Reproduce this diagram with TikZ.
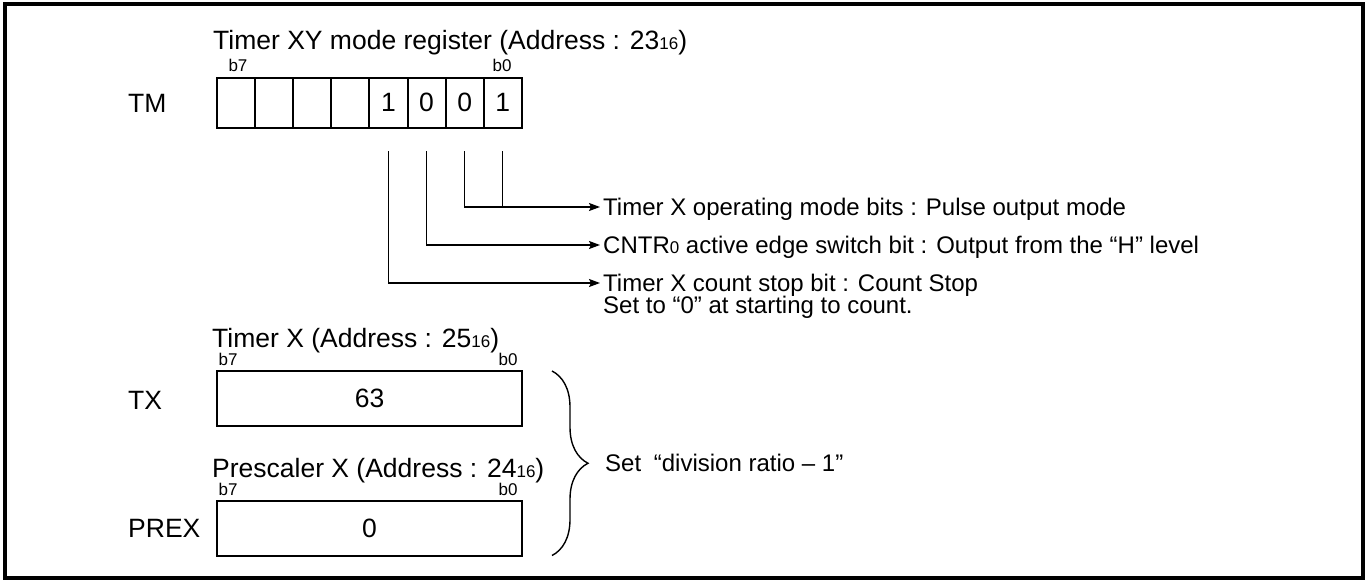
\documentclass[tikz,border=0pt]{standalone}
\usepackage{fontspec}
\setmainfont{Liberation Sans}
\usetikzlibrary{arrows.meta,positioning,decorations.pathreplacing}
\newcommand{\smallnum}[1]{{\fontsize{17}{17}\selectfont #1}}

\begin{document}
\begin{tikzpicture}[x=1pt,y=-1pt,
  every node/.style={font=\fontsize{26.5}{28}\selectfont},
  bitnum/.style={font=\fontsize{17}{17}\selectfont,inner sep=0pt,anchor=base},
  regtitle/.style={anchor=base west,inner sep=0pt},
  regname/.style={anchor=west,inner sep=0pt},
  bitcell/.style={draw,line width=2pt,minimum width=38.1pt,minimum height=50pt,inner sep=0pt,outer sep=0pt},
  regbox/.style={draw,line width=2pt,minimum width=305pt,minimum height=55pt,inner sep=0pt,outer sep=0pt},
  desclbl/.style={anchor=west,inner xsep=3pt,inner ysep=0pt,text height=17pt,text depth=0pt,
    font=\fontsize{24}{24}\selectfont},
  conn/.style={line width=1.4pt},
  arr/.style={conn,-{Stealth[length=11pt,width=8pt,inset=2pt]}}]
  \useasboundingbox (0,0) rectangle (1368,581);
  \draw[line width=4pt] (5,3.5) rectangle (1362.5,578);

  % mode register
  \node[regname] (tm) at (128,103) {TM};
  \node[regtitle] (tmtitle) at (213,49) {Timer XY mode register (Address : 23\smallnum{16})};
  \foreach \b/\v [count=\k from 0] in {7/,6/,5/,4/,3/1,2/0,1/0,0/1}
    \node[bitcell] (bit\b) at (236.05+38.1*\k,102.5) {\v};
  \node[bitnum] (tmb7) at (238,71) {b7};
  \node[bitnum] (tmb0) at (502,71) {b0};

  \node[desclbl] (mode) at (600,207) {Timer X operating mode bits : Pulse output mode};
  \node[desclbl] (edge) at (600,245) {CNTR\smallnum{0} active edge switch bit : Output from the “H” level};
  \node[desclbl] (stop) at (600,283) {Timer X count stop bit : Count Stop};
  \node[desclbl,anchor=base west] (stopnote) at ([yshift=-22pt]stop.south west) {Set to “0” at starting to count.};

  \draw[arr] ([yshift=-23.5pt]bit1.south) |- (mode.west);
  \draw[conn] ([yshift=-23.5pt]bit0.south) -- (bit0.south |- mode.west);
  \draw[arr] ([yshift=-23.5pt]bit2.south) |- (edge.west);
  \draw[arr] ([yshift=-23.5pt]bit3.south) |- (stop.west);

  % timer X and prescaler X
  \node[regname] (tx) at (128,400) {TX};
  \node[regbox] (txreg) at (369.5,398.5) {63};
  \node[regtitle] (txtitle) at (212,347) {Timer X (Address : 25\smallnum{16})};
  \node[bitnum] (txb7) at (228,365) {b7};
  \node[bitnum] (txb0) at (508,365) {b0};

  \node[regname] (prex) at (128,528) {PREX};
  \node[regbox] (prexreg) at (369.5,528) {0};
  \node[regtitle] (prextitle) at (212,477) {Prescaler X (Address : 24\smallnum{16})};
  \node[bitnum] (prexb7) at (228,495) {b7};
  \node[bitnum] (prexb0) at (508,495) {b0};

  \draw[conn,decorate,decoration={brace,amplitude=36pt}]
    ([xshift=30pt]txreg.north east) -- ([xshift=30pt]prexreg.south east);
  \node[desclbl] (ratio) at (602,462.5) {Set\hspace{0.25em} “division ratio – 1”};
\end{tikzpicture}
\end{document}
